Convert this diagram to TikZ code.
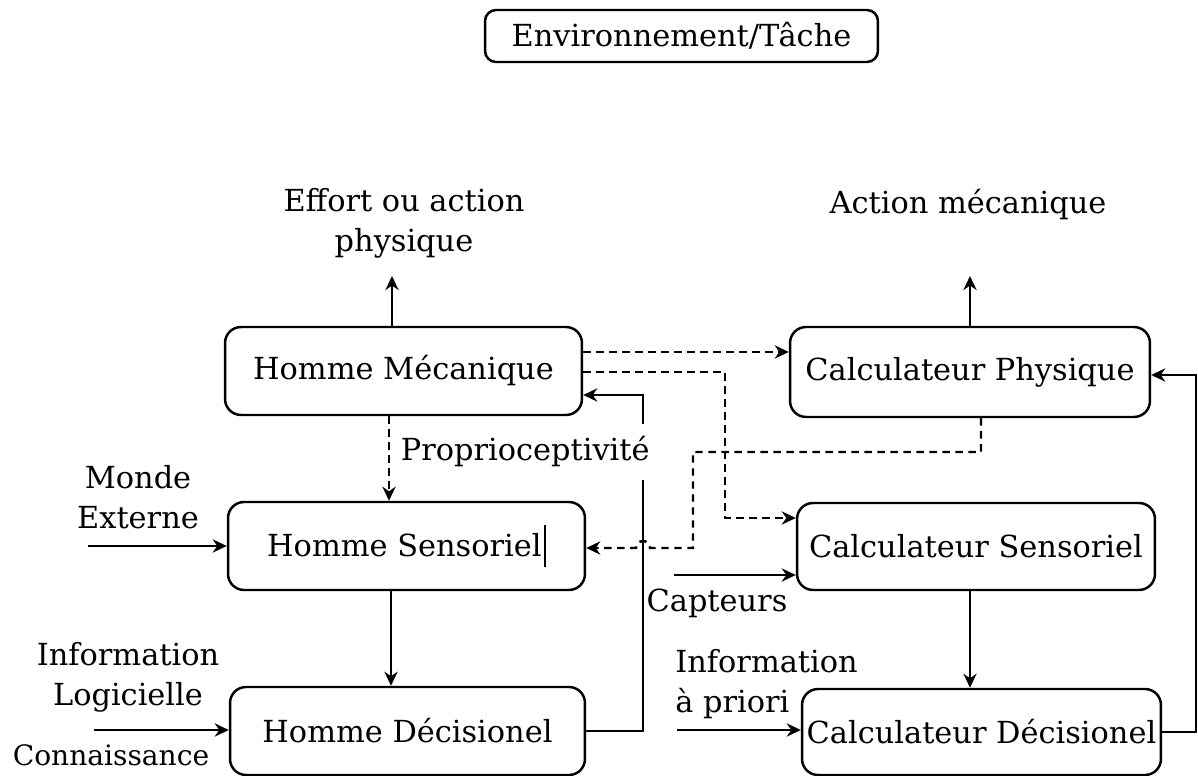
\documentclass[tikz,border=0pt]{standalone}
\usepackage{fontspec}
\setmainfont{DejaVu Serif}
\usetikzlibrary{arrows.meta}
\begin{document}
\begin{tikzpicture}[x=0.02cm,y=-0.02cm,
  every node/.style={font=\fontsize{17.3}{22.7}\selectfont, inner sep=0pt},
  block/.style={draw, line width=1.4pt, rounded corners=0.32cm, align=center},
  conn/.style={line width=1.4pt, -{Stealth[length=8pt,width=7.5pt]}},
  dconn/.style={conn, dash pattern=on 4.2pt off 3.2pt},
  lbl/.style={align=center}]
\useasboundingbox (0,0) rectangle (1198,776);

% title
\node[block, rounded corners=0.22cm, minimum width=7.86cm, minimum height=1.04cm] (env) at (681.5,36) {Environnement/Tâche};

% human side
\node[block, minimum width=7.14cm, minimum height=1.76cm] (hm) at (403.5,371) {Homme Mécanique};
\node[block, minimum width=7.14cm, minimum height=1.76cm] (hs) at (406.5,546)
  {Homme Sensoriel\hspace{1.5pt}\rule[-0.32em]{0.9pt}{1.35em}};
\node[block, minimum width=7.10cm, minimum height=1.76cm] (hd) at (407.5,731) {Homme Décisionel};

% computer side
\node[block, minimum width=7.20cm, minimum height=1.80cm] (cp) at (970,372) {Calculateur Physique};
\node[block, minimum width=7.16cm, minimum height=1.74cm] (cs) at (976,546.5) {Calculateur Sensoriel};
\node[block, minimum width=7.18cm, minimum height=1.72cm] (cd) at (981.5,732) {Calculateur Décisionel};

% helper coordinates
\coordinate (effort) at (392,276);
\coordinate (action) at (970,276);
\coordinate (colh) at (391,0);
\coordinate (colp) at (389,0);
\coordinate (colc) at (970,0);
\coordinate (fb) at (643,395);
\coordinate (fr) at (1196,375);
\coordinate (d1) at (0,352);
\coordinate (d2a) at (725,372);
\coordinate (d2b) at (725,518);
\coordinate (d3a) at (981,452);
\coordinate (d3b) at (693,452);
\coordinate (d3c) at (693,548);
\coordinate (hop) at (650,548);
\coordinate (me) at (88,546);
\coordinate (il) at (94,730);
\coordinate (ca) at (674,575);
\coordinate (ap) at (677,730);

% outputs
\draw[conn] (hm.north -| effort) -- (effort);
\draw[conn] (cp.north -| action) -- (action);
\node[lbl] (effortlbl) at (404,223) {Effort ou action\\physique};
\node[lbl] (actionlbl) at (968,205) {Action mécanique};

% vertical flows
\draw[conn] (hs.south -| colh) -- (hd.north -| colh);
\draw[conn] (cs.south -| colc) -- (cd.north -| colc);
\draw[dconn] (hm.south -| colp) -- (hs.north -| colp);

% feedback loops
\draw[conn] (hd.east) -| (fb) -- (hm.east |- fb);
\draw[conn] (cd.east) -| (fr) -- (cp.east |- fr);

% dashed couplings
\draw[dconn] (hm.east |- d1) -- (cp.west |- d1);
\draw[dconn] (hm.east |- d2a) -- (d2a) -- (d2b) -- (cs.west |- d2b);
\draw[dconn] (cp.south -| d3a) -- (d3a) -- (d3b) -- (d3c) -- (hop)
  arc[start angle=0, end angle=-180, radius=7] -- (hs.east |- d3c);

\node[fill=white, inner xsep=2pt, inner ysep=7pt, anchor=west] (prop) at (397,452) {Proprioceptivité};

% inputs
\draw[conn] (me) -- (hs.west |- me);
\node[lbl] (melbl) at (138,497) {Monde\\Externe};
\draw[conn] (il) -- (hd.west |- il);
\node[lbl] (illbl) at (128,677) {Information\\Logicielle};
\node[lbl, font=\fontsize{16}{22.7}\selectfont] (conlbl) at (111,755) {Connaissance};
\draw[conn] (ca) -- (cs.west |- ca);
\node[lbl] (calbl) at (717,603) {Capteurs};
\draw[conn] (ap) -- (cd.west |- ap);
\node[align=left, anchor=west] (aplbl) at (675,684) {Information\\à priori};
\end{tikzpicture}
\end{document}
